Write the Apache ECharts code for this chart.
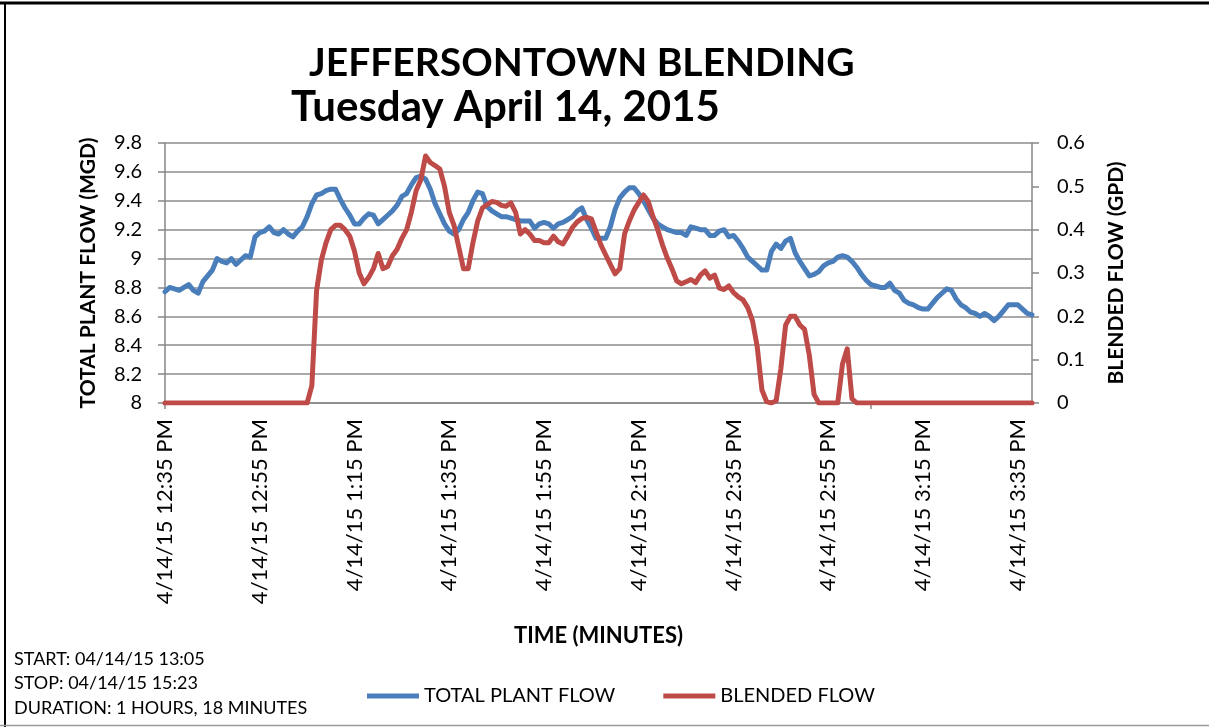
<!DOCTYPE html>
<html>
<head>
<meta charset="utf-8">
<script src="https://cdn.jsdelivr.net/npm/echarts@6/dist/echarts.min.js"></script>
<style>
html,body{margin:0;padding:0;background:#fff;}
#chart{width:1209px;height:727px;}
</style>
</head>
<body>
<div id="chart"></div>
<script>
// minute-by-minute readings, starting 4/14/15 12:35 PM
const startHour = 12, startMinute = 35;
const totalPlantFlow = [
8.77,8.80,8.79,8.78,8.80,8.82,8.78,8.76,8.84,8.88,
8.92,9.00,8.98,8.97,9.00,8.96,8.99,9.02,9.01,9.15,
9.18,9.19,9.22,9.18,9.17,9.20,9.17,9.15,9.19,9.22,
9.29,9.38,9.44,9.45,9.47,9.48,9.48,9.41,9.35,9.30,
9.24,9.24,9.28,9.31,9.30,9.24,9.27,9.30,9.33,9.37,
9.43,9.45,9.51,9.56,9.57,9.55,9.48,9.38,9.31,9.24,
9.19,9.17,9.20,9.27,9.32,9.40,9.46,9.45,9.36,9.33,
9.31,9.29,9.29,9.28,9.27,9.26,9.26,9.26,9.21,9.24,
9.25,9.24,9.21,9.24,9.25,9.27,9.29,9.33,9.35,9.27,
9.21,9.14,9.14,9.14,9.22,9.34,9.42,9.46,9.49,9.49,
9.45,9.40,9.34,9.28,9.24,9.22,9.20,9.19,9.18,9.18,
9.16,9.22,9.21,9.20,9.20,9.16,9.16,9.19,9.20,9.15,
9.16,9.12,9.07,9.01,8.98,8.95,8.92,8.92,9.05,9.10,
9.07,9.12,9.14,9.04,8.98,8.93,8.88,8.89,8.91,8.95,
8.97,8.98,9.01,9.02,9.01,8.98,8.94,8.89,8.85,8.82,
8.81,8.80,8.80,8.83,8.78,8.76,8.71,8.69,8.68,8.66,
8.65,8.65,8.69,8.73,8.76,8.79,8.78,8.72,8.68,8.66,
8.63,8.62,8.60,8.62,8.60,8.57,8.60,8.64,8.68,8.68,
8.68,8.65,8.62,8.61
];
const blendedFlow = [
0,0,0,0,0,0,0,0,0,0,
0,0,0,0,0,0,0,0,0,0,
0,0,0,0,0,0,0,0,0,0,
0,0.04,0.26,0.33,0.37,0.40,0.41,0.41,0.40,0.385,
0.35,0.30,0.275,0.29,0.31,0.345,0.31,0.315,0.34,0.355,
0.38,0.40,0.44,0.49,0.515,0.57,0.555,0.548,0.54,0.50,
0.44,0.41,0.36,0.31,0.31,0.37,0.42,0.45,0.458,0.465,
0.463,0.456,0.454,0.462,0.44,0.39,0.40,0.39,0.375,0.375,
0.37,0.37,0.385,0.372,0.367,0.385,0.405,0.418,0.426,0.428,
0.425,0.395,0.365,0.342,0.32,0.298,0.31,0.39,0.42,0.445,
0.463,0.48,0.465,0.43,0.40,0.365,0.335,0.31,0.282,0.275,
0.28,0.285,0.278,0.295,0.305,0.288,0.295,0.265,0.262,0.27,
0.255,0.245,0.238,0.22,0.19,0.13,0.03,0.003,0,0.005,
0.08,0.18,0.20,0.20,0.18,0.17,0.11,0.02,0,0,
0,0,0,0.09,0.125,0.01,0,0,0,0,
0,0,0,0,0,0,0,0,0,0,
0,0,0,0,0,0,0,0,0,0,
0,0,0,0,0,0,0,0,0,0,
0,0,0,0
];
const leftTicks = {min: 8, max: 9.8, step: 0.2};
const rightTicks = {min: 0, max: 0.6, step: 0.1};
const labelEvery = 20;
const seriesNames = ['TOTAL PLANT FLOW', 'BLENDED FLOW'];
const titleText = 'JEFFERSONTOWN BLENDING';
const subtitleText = 'Tuesday April 14, 2015';
const infoLines = ['START: 04/14/15 13:05', 'STOP: 04/14/15 15:23', 'DURATION: 1 HOURS, 18 MINUTES'];

function fmtTime(i){
  let total = startHour*60 + startMinute + i;
  let h = Math.floor(total/60), m = total%60;
  let ap = h >= 12 ? 'PM' : 'AM';
  let h12 = h % 12; if (h12 === 0) h12 = 12;
  return '4/14/15 ' + h12 + ':' + (m<10?'0':'') + m + ' ' + ap;
}
const categories = totalPlantFlow.map((v,i)=>fmtTime(i));

const FONT = 'Lato';
const chart = echarts.init(document.getElementById('chart'), null, {renderer:'canvas'});
const option = {
  backgroundColor: '#ffffff',
  animation: false,
  textStyle: {fontFamily: FONT, color: '#000'},
  title: [
    {text: titleText, left: 304, top: 39, textStyle: {fontFamily: FONT, fontWeight: 'bold', fontSize: 39, color: '#000'}},
    {text: subtitleText, left: 286, top: 81, textStyle: {fontFamily: FONT, fontWeight: 'bold', fontSize: 42, color: '#000'}}
  ],
  legend: {
    left: 362, top: 681,
    icon: 'rect', itemWidth: 52, itemHeight: 5, itemGap: 48,
    textStyle: {fontFamily: FONT, fontSize: 20, color: '#000'},
    data: seriesNames
  },
  grid: {left: 165, right: 177, top: 143, bottom: 324, containLabel: false},
  xAxis: {
    type: 'category', data: categories, boundaryGap: false,
    name: 'TIME (MINUTES)', nameLocation: 'middle', nameGap: 222,
    nameTextStyle: {fontFamily: FONT, fontWeight: 'bold', fontSize: 22, color: '#000'},
    axisLine: {lineStyle: {color: '#868686', width: 1.5}},
    axisTick: {show: true, interval: function(i){ return i === 0 || i === 149; }, length: 6, lineStyle: {color: '#868686', width: 1.5}},
    axisLabel: {interval: labelEvery-1, rotate: 90, margin: 16, fontFamily: FONT, fontSize: 22, color: '#000'},
    splitLine: {show: false}
  },
  yAxis: [
    {
      type: 'value', min: leftTicks.min, max: leftTicks.max, interval: leftTicks.step, position: 'left',
      name: 'TOTAL PLANT FLOW (MGD)', nameLocation: 'middle', nameGap: 66, nameRotate: 90,
      nameTextStyle: {fontFamily: FONT, fontWeight: 'bold', fontSize: 21, color: '#000'},
      axisLine: {show: true, lineStyle: {color: '#868686', width: 1.5}},
      axisTick: {show: true, length: 7, lineStyle: {color: '#868686', width: 1.5}},
      axisLabel: {margin: 23, fontFamily: FONT, fontSize: 20, color: '#000'},
      splitLine: {show: true, lineStyle: {color: '#8c8c8c', width: 1.5}}
    },
    {
      type: 'value', min: rightTicks.min, max: rightTicks.max, interval: rightTicks.step, position: 'right',
      name: 'BLENDED FLOW (GPD)', nameLocation: 'middle', nameGap: 74, nameRotate: 90,
      nameTextStyle: {fontFamily: FONT, fontWeight: 'bold', fontSize: 21, color: '#000'},
      axisLine: {show: true, lineStyle: {color: '#868686', width: 1.5}},
      axisTick: {show: true, length: 7, lineStyle: {color: '#868686', width: 1.5}},
      axisLabel: {margin: 25, fontFamily: FONT, fontSize: 20, color: '#000'},
      splitLine: {show: false}
    }
  ],
  series: [
    {
      name: seriesNames[0], type: 'line', yAxisIndex: 0, data: totalPlantFlow,
      showSymbol: false, symbol: 'none', color: '#4A7EBB',
      lineStyle: {width: 5, color: '#4A7EBB', cap: 'round', join: 'round'}
    },
    {
      name: seriesNames[1], type: 'line', yAxisIndex: 1, data: blendedFlow,
      showSymbol: false, symbol: 'none', color: '#BE4B48',
      lineStyle: {width: 5, color: '#BE4B48', cap: 'round', join: 'round'}
    }
  ],
  graphic: [
    {type: 'line', shape: {x1: 0, y1: 3, x2: 1209, y2: 3}, style: {stroke: '#000', lineWidth: 3}, silent: true},
    {type: 'line', shape: {x1: 5, y1: 2, x2: 5, y2: 727}, style: {stroke: '#000', lineWidth: 2}, silent: true},
    {type: 'line', shape: {x1: 0, y1: 725.5, x2: 1209, y2: 725.5}, style: {stroke: '#999', lineWidth: 1.5}, silent: true},
    {type: 'text', left: 14, top: 650, style: {text: infoLines[0], font: '18px Lato', fill: '#000'}},
    {type: 'text', left: 14, top: 674, style: {text: infoLines[1], font: '18px Lato', fill: '#000'}},
    {type: 'text', left: 14, top: 699, style: {text: infoLines[2], font: '18px Lato', fill: '#000'}}
  ]
};
chart.setOption(option);
</script>
</body>
</html>
